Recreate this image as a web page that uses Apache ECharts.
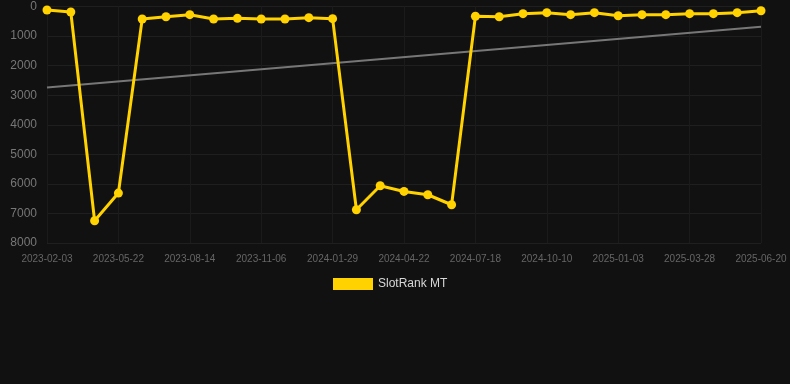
<!DOCTYPE html>
<html>
<head>
<meta charset="utf-8">
<style>
  html, body { margin: 0; padding: 0; background: #111111; }
  #echart1 { width: 790px; height: 384px; }
</style>
<script src="https://cdn.jsdelivr.net/npm/echarts/dist/echarts.min.js"></script>
</head>
<body>
<div id="echart1"></div>
<script>
var dates = ['2023-02-03', '2023-03-17', '2023-04-24', '2023-05-22', '2023-06-19', '2023-07-17',
    '2023-08-14', '2023-09-11', '2023-10-09', '2023-11-06', '2023-12-04', '2024-01-01',
    '2024-01-29', '2024-02-26', '2024-03-25', '2024-04-22', '2024-05-20', '2024-06-17',
    '2024-07-18', '2024-08-15', '2024-09-12', '2024-10-10', '2024-11-07', '2024-12-05',
    '2025-01-03', '2025-01-31', '2025-02-28', '2025-03-28', '2025-04-25', '2025-05-23',
    '2025-06-20'];
var rankMT = [118, 186, 7247, 6311, 422, 345, 277, 422, 400, 422, 422, 378, 412,
    6875, 6064, 6256, 6368, 6706, 331, 345, 243, 209, 277, 209, 311, 277, 277, 243, 243, 209, 142];
// trend only known at both ends, gap joined by connectNulls
var trendStart = 2743;
var trendEnd = 682;
var yTicks = { min: 0, max: 8000, step: 1000 };

function echarts_1() {
    var myChart = echarts.init(document.getElementById('echart1'));
    var trend = dates.map(function () { return null; });
    trend[0] = trendStart;
    trend[trend.length - 1] = trendEnd;

    var option = {
        backgroundColor: '#111111',
        textStyle: { fontFamily: 'Liberation Sans, Arial, sans-serif' },
        animation: false,
        grid: {
            left: 47,
            right: 29,
            top: 6.5,
            bottom: 141
        },
        legend: {
            top: 273,
            left: 328,
            itemWidth: 40,
            itemHeight: 12,
            itemGap: 10,
            icon: 'rect',
            data: ['SlotRank MT'],
            textStyle: {
                color: '#d8d8d8',
                fontSize: 12
            }
        },
        xAxis: {
            type: 'category',
            boundaryGap: false,
            data: dates,
            axisLine: { show: false },
            axisTick: { show: false },
            axisLabel: {
                color: '#666',
                fontSize: 10,
                margin: 11,
                interval: 2
            },
            splitLine: {
                show: true,
                interval: 2,
                lineStyle: { color: '#1b1b1b', width: 1 }
            }
        },
        yAxis: {
            type: 'value',
            inverse: true,
            min: yTicks.min,
            max: yTicks.max,
            interval: yTicks.step,
            axisLine: { show: false },
            axisTick: { show: false },
            axisLabel: {
                color: '#777',
                fontSize: 12,
                margin: 10,
                formatter: function (v) { return String(v); }
            },
            splitLine: {
                lineStyle: { color: '#1f1f1f', width: 1 }
            }
        },
        series: [{
            name: 'trend',
            type: 'line',
            data: trend,
            connectNulls: true,
            symbol: 'none',
            silent: true,
            lineStyle: { color: '#777', width: 2 },
            z: 1
        }, {
            name: 'SlotRank MT',
            type: 'line',
            data: rankMT,
            symbol: 'circle',
            symbolSize: 9,
            itemStyle: { color: '#ffd200' },
            lineStyle: { color: '#ffd200', width: 3 },
            z: 2
        }]
    };
    myChart.setOption(option);
    window.addEventListener("resize", function () {
        myChart.resize();
    });
}
echarts_1();
</script>
</body>
</html>
